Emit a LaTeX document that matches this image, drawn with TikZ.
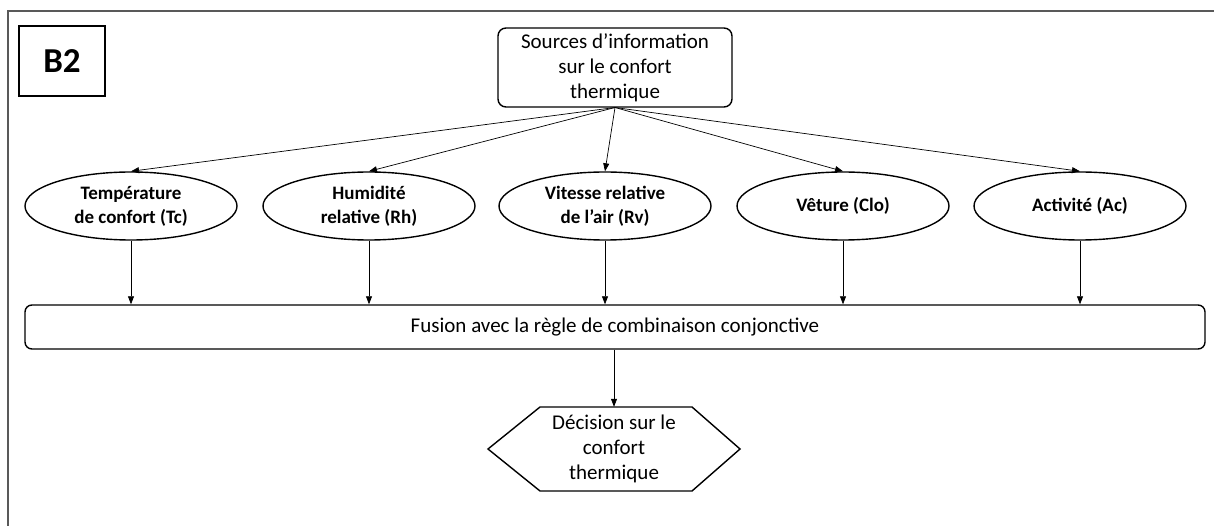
\documentclass[tikz,border=0pt]{standalone}
\usepackage{fontspec}
\setmainfont{Carlito}
\usetikzlibrary{shapes.geometric,arrows.meta}
\tikzset{
  ell/.style={ellipse,draw,line width=1.4pt,minimum width=212pt,minimum height=68pt,inner sep=0pt,align=center,font=\fontsize{19}{24}\selectfont\bfseries},
  arr/.style={draw,line width=0.7pt,-{Triangle[length=8pt,width=6pt]}},
  box/.style={draw,line width=1.4pt,rounded corners=8pt,align=center}
}
\begin{document}
\begin{tikzpicture}[x=1pt,y=-1pt]
\useasboundingbox (0,0) rectangle (1214,526);
\draw[gray!70!black,line width=2.6pt] (1214,11) -- (8,11) -- (8,526);
\node[draw,line width=1.4pt,minimum width=86pt,minimum height=70pt,font=\fontsize{35}{40}\selectfont\bfseries] (b2) at (62,61) {B2};
\node[box,minimum width=234pt,minimum height=79pt,inner sep=0pt,font=\fontsize{21}{25}\selectfont] (src) at (615,67.5) {Sources d’information\\sur le confort\\thermique};
\node[ell] (tc) at (131,206) {Température\\de confort (Tc)};
\node[ell] (rh) at (369,206) {Humidité\\relative (Rh)};
\node[ell] (rv) at (605,206) {Vitesse relative\\de l’air (Rv)};
\node[ell] (clo) at (843,206) {Vêture (Clo)};
\node[ell] (ac) at (1080,206) {Activité (Ac)};
\node[box,rounded corners=7pt,minimum width=1180pt,minimum height=44pt,font=\fontsize{21}{25}\selectfont] (fus) at (615,327) {Fusion avec la règle de combinaison conjonctive};
\draw[line width=1.4pt] (540,407) -- (692,407) -- (740,449) -- (692,491) -- (540,491) -- (488,449) -- cycle;
\node[align=center,font=\fontsize{21}{25}\selectfont,minimum width=252pt,minimum height=84pt,inner sep=0pt] (dec) at (614,449) {Décision sur le\\confort\\thermique};
\coordinate (o) at (615,107.5);
\foreach \n in {tc,rh,rv,clo,ac} \draw[arr] (o) -- (\n.north);
\foreach \n in {tc,rh,rv,clo,ac} \draw[arr] (\n.south) -- (\n.south |- fus.north);
\draw[arr] (fus.south -| dec.north) -- (dec.north);
\end{tikzpicture}
\end{document}
